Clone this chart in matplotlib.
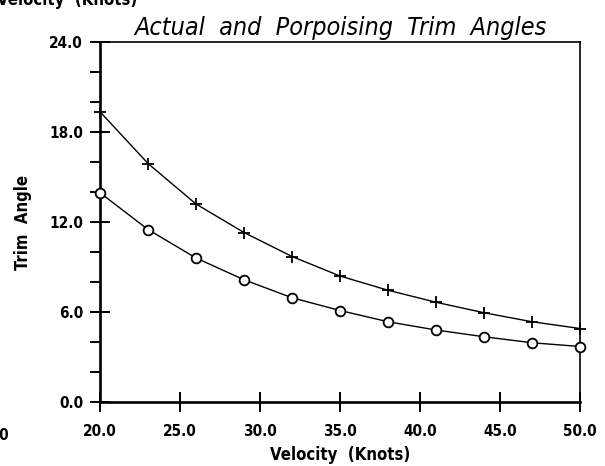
import matplotlib
matplotlib.use("Agg")
import matplotlib.pyplot as plt
from matplotlib.ticker import MultipleLocator, FormatStrFormatter

plt.rcParams['font.family'] = ['DejaVu Sans']
plt.rcParams['font.stretch'] = 'condensed'

# velocity (knots) and trim angles
velocity = [20, 23, 26, 29, 32, 35, 38, 41, 44, 47, 50]
porpoising_trim = [19.35, 15.9, 13.2, 11.3, 9.7, 8.4, 7.45, 6.65, 5.95, 5.35, 4.9]
actual_trim = [13.95, 11.5, 9.6, 8.15, 6.95, 6.1, 5.35, 4.8, 4.35, 3.95, 3.7]

x_ticks = [20, 25, 30, 35, 40, 45, 50]
y_ticks = [0, 6, 12, 18, 24]

fig = plt.figure(figsize=(6.05, 4.66), dpi=100)
ax = fig.add_axes([100 / 605, 1 - 402 / 466, 480 / 605, 360 / 466])

ax.plot(velocity, porpoising_trim, color='black', lw=1.0, marker='+',
        ms=9, mew=1.3, clip_on=False, zorder=3)
ax.plot(velocity, actual_trim, color='black', lw=1.0, marker='o',
        ms=7, mfc='white', mew=1.3, clip_on=False, zorder=3)

ax.set_xlim(20, 50)
ax.set_ylim(0, 24)
ax.set_xticks(x_ticks)
ax.set_yticks(y_ticks)
ax.yaxis.set_minor_locator(MultipleLocator(2))
ax.xaxis.set_major_formatter(FormatStrFormatter('%.1f'))
ax.yaxis.set_major_formatter(FormatStrFormatter('%.1f'))

# lengths in points: 14.4 pt is about 20 px at 100 dpi
ax.tick_params(axis='both', which='major', direction='inout', length=14.4,
               width=1.4, labelsize=11, pad=5)
ax.tick_params(axis='y', which='minor', direction='out', length=7.2, width=1.4)
ax.tick_params(axis='x', which='major', pad=8.5)
for lab in ax.get_xticklabels() + ax.get_yticklabels():
    lab.set_fontweight('bold')

for side in ('left', 'bottom'):
    ax.spines[side].set_linewidth(1.9)
for side in ('top', 'right'):
    ax.spines[side].set_linewidth(1.2)

ax.set_xlabel('Velocity  (Knots)', fontsize=12, fontweight='bold', labelpad=5)
ax.set_ylabel('Trim  Angle', fontsize=12, fontweight='bold', labelpad=12.5)
ax.set_title('Actual  and  Porpoising  Trim  Angles', fontsize=18,
             style='italic', pad=5)

# fragments of neighbouring panels at the page edges
fig.text(67 / 605, 1, 'Velocity  (Knots)', fontsize=12,
         fontweight='bold', ha='center', va='center')
fig.text(9 / 605, 1 - 436 / 466, '50.0', fontsize=11, fontweight='bold',
         ha='right', va='center')

fig.savefig('out.png', dpi=100)
